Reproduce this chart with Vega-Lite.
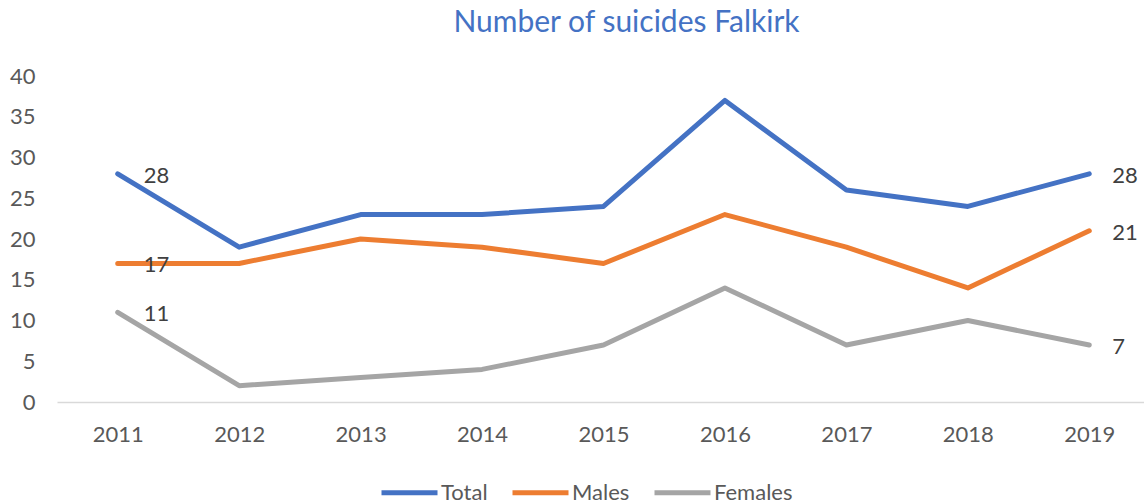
{
  "$schema": "https://vega.github.io/schema/vega-lite/v6.json",
  "width": 1093,
  "height": 326,
  "autosize": {"type": "none"},
  "padding": {"left": 57, "top": 76, "right": 0, "bottom": 102},
  "background": "white",
  "config": {
    "view": {"stroke": null},
    "font": "Lato",
    "axis": {"labelFont": "Lato", "labelFontSize": 22, "labelColor": "#595959", "ticks": false, "grid": false, "title": null}
  },
  "title": {
    "text": "Number of suicides Falkirk",
    "font": "Lato",
    "fontSize": 30,
    "fontWeight": "normal",
    "color": "#4472C4",
    "anchor": "middle",
    "dx": 23,
    "offset": 27
  },
  "data": {
    "values": [
      {"year": "2011", "series": "Total", "value": 28},
      {"year": "2012", "series": "Total", "value": 19},
      {"year": "2013", "series": "Total", "value": 23},
      {"year": "2014", "series": "Total", "value": 23},
      {"year": "2015", "series": "Total", "value": 24},
      {"year": "2016", "series": "Total", "value": 37},
      {"year": "2017", "series": "Total", "value": 26},
      {"year": "2018", "series": "Total", "value": 24},
      {"year": "2019", "series": "Total", "value": 28},
      {"year": "2011", "series": "Males", "value": 17},
      {"year": "2012", "series": "Males", "value": 17},
      {"year": "2013", "series": "Males", "value": 20},
      {"year": "2014", "series": "Males", "value": 19},
      {"year": "2015", "series": "Males", "value": 17},
      {"year": "2016", "series": "Males", "value": 23},
      {"year": "2017", "series": "Males", "value": 19},
      {"year": "2018", "series": "Males", "value": 14},
      {"year": "2019", "series": "Males", "value": 21},
      {"year": "2011", "series": "Females", "value": 11},
      {"year": "2012", "series": "Females", "value": 2},
      {"year": "2013", "series": "Females", "value": 3},
      {"year": "2014", "series": "Females", "value": 4},
      {"year": "2015", "series": "Females", "value": 7},
      {"year": "2016", "series": "Females", "value": 14},
      {"year": "2017", "series": "Females", "value": 7},
      {"year": "2018", "series": "Females", "value": 10},
      {"year": "2019", "series": "Females", "value": 7}
    ]
  },
  "encoding": {
    "x": {
      "field": "year",
      "type": "ordinal",
      "scale": {"type": "point", "padding": 0.5},
      "axis": {"labelAngle": 0, "domainColor": "#D9D9D9", "domainWidth": 1.5, "labelPadding": 22}
    },
    "y": {
      "field": "value",
      "type": "quantitative",
      "scale": {"domain": [0, 40], "nice": false},
      "axis": {"domain": false, "values": [0, 5, 10, 15, 20, 25, 30, 35, 40], "labelPadding": 22}
    }
  },
  "layer": [
    {
      "mark": {"type": "line", "strokeWidth": 5, "strokeCap": "round", "strokeJoin": "round"},
      "encoding": {
        "color": {
          "field": "series",
          "type": "nominal",
          "sort": ["Total", "Males", "Females"],
          "scale": {"domain": ["Total", "Males", "Females"], "range": ["#4472C4", "#ED7D31", "#A5A5A5"]},
          "legend": {
            "title": null,
            "orient": "none",
            "direction": "horizontal",
            "legendX": 322,
            "legendY": 386,
            "padding": 0,
            "symbolType": "stroke",
            "symbolSize": 3136,
            "symbolStrokeWidth": 5,
            "labelFont": "Lato",
            "labelFontSize": 22,
            "labelColor": "#595959",
            "labelOffset": 1,
            "columnPadding": 14
          }
        }
      }
    },
    {
      "transform": [{"filter": "datum.year == '2011'"}],
      "mark": {"type": "text", "align": "left", "baseline": "middle", "dx": 26, "dy": 2, "font": "Lato", "fontSize": 22, "color": "#404040"},
      "encoding": {"text": {"field": "value", "type": "quantitative"}}
    },
    {
      "transform": [{"filter": "datum.year == '2019'"}],
      "mark": {"type": "text", "align": "left", "baseline": "middle", "dx": 23, "dy": 2, "font": "Lato", "fontSize": 22, "color": "#404040"},
      "encoding": {"text": {"field": "value", "type": "quantitative"}}
    }
  ]
}
